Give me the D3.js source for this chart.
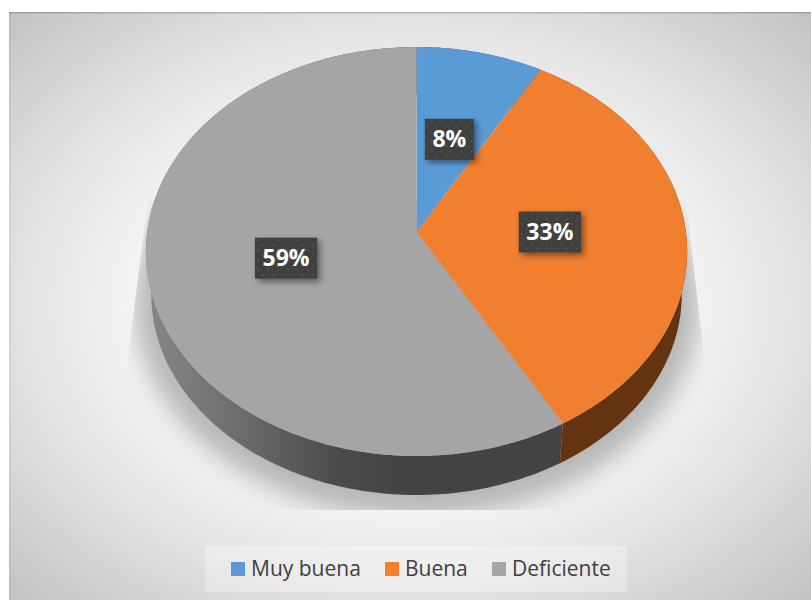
<!DOCTYPE html>
<html lang="es">
	<head>
		<meta charset="utf-8">
		<title>D3: pie chart</title>
		<script src="https://d3js.org/d3.v7.min.js"></script>
		<style type="text/css">
			html, body { margin: 0; padding: 0; background: white; overflow: hidden; }
			svg { display: block; }
			text { font-family: "Open Sans", sans-serif; }
		</style>
	</head>
	<body>
		<svg id="pie" width="811" height="600"></svg>
		<script type="text/javascript">

			var categories = ["Muy buena", "Buena", "Deficiente"];
			var values = [8.3, 33.4, 58.3];
			// printed labels as they stand in the picture
			var valueLabels = ["8%", "33%", "59%"];
			var colors = ["#5b9bd5", "#f17f30", "#a5a5a5"];
			var sideColors = ["#2f5a80", "#63340f", "url(#sideGray)"];

			var svg = d3.select("#pie"),
				defs = svg.append("defs");

			// the pie is tilted in perspective, so the apex is not the ellipse centre
			var apexX = 416.5, apexY = 232, scaleX = 269.4, scaleY = 202.6, k = 0.0954;
			var project = function(a, r, s, dy){
				var u = r * Math.sin(a), v = r * Math.cos(a), d = 1 + k * v;
				return [apexX + s * scaleX * u / d, apexY + dy - s * scaleY * v / d];
			};

			var rim = function(a0, a1, s, dy){
				var n = Math.max(2, Math.ceil((a1 - a0) * 60));
				return d3.range(n + 1).map(function(i){
					return project(a0 + (a1 - a0) * i / n, 1, s, dy);
				});
			};

			var line = d3.line();

			// background
			var bg = defs.append("radialGradient").attr("id", "bg")
				.attr("cx", 0.5).attr("cy", 0.5).attr("r", 0.705);
			bg.append("stop").attr("offset", 0).attr("stop-color", "#ffffff");
			bg.append("stop").attr("offset", 0.43).attr("stop-color", "#f8f8f8");
			bg.append("stop").attr("offset", 0.71).attr("stop-color", "#e0e0e0");
			bg.append("stop").attr("offset", 1).attr("stop-color", "#c3c3c3");

			svg.append("rect")
				.attr("x", 9).attr("y", 12).attr("width", 802).attr("height", 588)
				.attr("fill", "url(#bg)");
			svg.append("rect")
				.attr("x", 9).attr("y", 12).attr("width", 802).attr("height", 1.5)
				.attr("fill", "#000").attr("opacity", 0.18);
			svg.append("rect")
				.attr("x", 9).attr("y", 12).attr("width", 2).attr("height", 588)
				.attr("fill", "#000").attr("opacity", 0.05);

			// soft shadow under the pie, cut off by its own box
			var blur1 = defs.append("filter").attr("id", "blur1")
				.attr("x", "-20%").attr("y", "-20%").attr("width", "140%").attr("height", "140%");
			blur1.append("feGaussianBlur").attr("stdDeviation", 12);
			defs.append("clipPath").attr("id", "shadowClip")
				.append("path")
				.attr("d", "M148,200L127,365L127,510L705,510L705,365L686,200Z");

			svg.append("g").attr("clip-path", "url(#shadowClip)")
				.append("path")
				.attr("d", line(rim(0, 2 * Math.PI, 1.04, 52)) + "Z")
				.attr("fill", "#000")
				.attr("opacity", 0.25)
				.attr("filter", "url(#blur1)");

			// side wall
			var sideGray = defs.append("linearGradient").attr("id", "sideGray")
				.attr("gradientUnits", "userSpaceOnUse")
				.attr("x1", 150).attr("x2", 560).attr("y1", 0).attr("y2", 0);
			sideGray.append("stop").attr("offset", 0).attr("stop-color", "#868686");
			sideGray.append("stop").attr("offset", 0.22).attr("stop-color", "#6c6c6c");
			sideGray.append("stop").attr("offset", 0.45).attr("stop-color", "#4c4c4c");
			sideGray.append("stop").attr("offset", 0.6).attr("stop-color", "#444444");
			sideGray.append("stop").attr("offset", 1).attr("stop-color", "#434343");

			var slices = d3.pie().sort(null).value(function(d){ return d; })(values);

			svg.append("g").selectAll("path")
				.data(slices)
				.enter()
				.append("path")
				.attr("fill", function(d, i){ return sideColors[i]; })
				.attr("d", function(d){
					var top = rim(d.startAngle, d.endAngle, 1, 0),
						bottom = rim(d.startAngle, d.endAngle, 0.98, 43.5).reverse();
					return line(top.concat(bottom)) + "Z";
				});

			// top face
			svg.append("g").selectAll("path")
				.data(slices)
				.enter()
				.append("path")
				.attr("fill", function(d, i){ return colors[i]; })
				.attr("d", function(d){
					return line([[apexX, apexY]].concat(rim(d.startAngle, d.endAngle, 1, 0))) + "Z";
				});

			// data labels
			var dots = defs.append("pattern").attr("id", "dots")
				.attr("patternUnits", "userSpaceOnUse")
				.attr("width", 10).attr("height", 10);
			dots.append("rect").attr("width", 10).attr("height", 10).attr("fill", "#404040");
			dots.append("circle").attr("cx", 2).attr("cy", 2).attr("r", 1).attr("fill", "#555555");
			dots.append("circle").attr("cx", 7).attr("cy", 7).attr("r", 1).attr("fill", "#555555");

			var labelShadow = defs.append("filter").attr("id", "labelShadow")
				.attr("x", "-30%").attr("y", "-30%").attr("width", "170%").attr("height", "170%");
			labelShadow.append("feDropShadow")
				.attr("dx", 3).attr("dy", 3).attr("stdDeviation", 3)
				.attr("flood-color", "#000").attr("flood-opacity", 0.45);

			var labels = svg.append("g").selectAll("g")
				.data(slices)
				.enter()
				.append("g")
				.attr("transform", function(d){
					return "translate(" + project((d.startAngle + d.endAngle) / 2, 0.495, 1, 0) + ")";
				});

			var labelRects = labels.append("rect")
				.attr("fill", "url(#dots)")
				.attr("filter", "url(#labelShadow)");

			labels.append("text")
				.attr("text-anchor", "middle")
				.attr("y", 8)
				.attr("fill", "white")
				.attr("font-size", 23)
				.attr("font-weight", 700)
				.text(function(d, i){ return valueLabels[i]; })
				.each(function(d, i){
					var w = this.getBBox().width + 15;
					d3.select(labelRects.nodes()[i])
						.attr("x", -w / 2).attr("y", -20.5)
						.attr("width", w).attr("height", 41);
				});

			// legend
			var legendX = d3.scaleOrdinal().domain(categories).range([231, 385, 492]);

			svg.append("rect")
				.attr("x", 205).attr("y", 546).attr("width", 422).attr("height", 46)
				.attr("fill", "white").attr("opacity", 0.3);

			var legend = svg.append("g").selectAll("g")
				.data(categories)
				.enter()
				.append("g")
				.attr("transform", function(d){ return "translate(" + legendX(d) + ",562)"; });

			legend.append("rect")
				.attr("width", 14).attr("height", 14)
				.attr("fill", function(d, i){ return colors[i]; });

			legend.append("text")
				.attr("x", 20).attr("y", 14)
				.attr("fill", "#404040")
				.attr("font-size", 21)
				.text(function(d){ return d; });

		</script>
	</body>
</html>
